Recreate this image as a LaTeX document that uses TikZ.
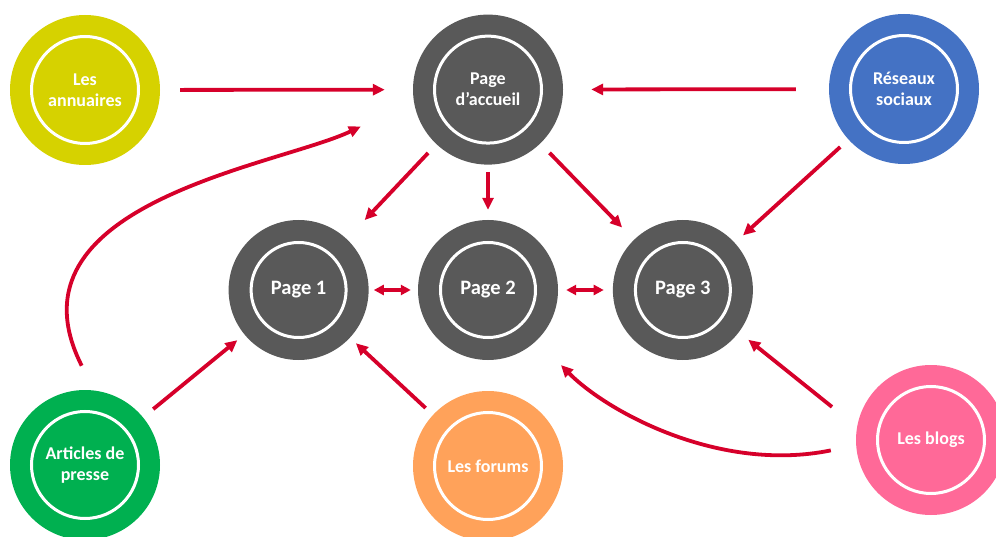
\documentclass[tikz,border=0pt]{standalone}
\usepackage{fontspec}
\setmainfont{Carlito}
\usepackage{tikz}
\usetikzlibrary{positioning,arrows.meta}

\definecolor{annucol}{RGB}{214,210,0}
\definecolor{pagegray}{RGB}{89,89,89}
\definecolor{rescol}{RGB}{68,114,196}
\definecolor{artcol}{RGB}{0,176,80}
\definecolor{forumcol}{RGB}{255,162,90}
\definecolor{blogcol}{RGB}{255,105,152}
\definecolor{linkred}{RGB}{214,0,42}

\tikzset{
  source/.style={circle, fill=#1, minimum size=150pt, inner sep=0pt, text=white,
    font=\bfseries\fontsize{18}{21}\selectfont, align=center,
    path picture={\draw[white, line width=3pt] (path picture bounding box.center) circle (53.5pt);}},
  page/.style={circle, fill=pagegray, minimum size=140pt, inner sep=0pt, text=white,
    font=\bfseries\fontsize{20.5}{24}\selectfont, align=center,
    path picture={\draw[white, line width=3pt] (path picture bounding box.center) circle (47.5pt);}},
  link/.style={draw=linkred, line width=3.8pt, -{Triangle[length=12pt, width=11pt]}},
  both/.style={draw=linkred, line width=3.8pt,
    {Triangle[length=10pt, width=10pt]}-{Triangle[length=10pt, width=10pt]}},
}

\begin{document}
\begin{tikzpicture}[x=1pt, y=-1pt]
  \useasboundingbox (0,0) rectangle (996,537);

  % Define nodes
  \node[page] (p2) at (488,290) {Page 2};
  \node[page, left=49pt of p2] (p1) {Page 1};
  \node[page, right=54.5pt of p2] (p3) {Page 3};
  \node[source=pagegray, above=55pt of p2] (home) {Page\\d’accueil};
  \node[source=annucol] (annu) at (85,90) {Les\\annuaires};
  \node[source=rescol] (res) at (904,89) {Réseaux\\sociaux};
  \node[source=artcol] (art) at (85,465) {Articles de\\presse};
  \node[source=forumcol] (forum) at (488,466) {Les forums};
  \node[source=blogcol] (blogs) at (931,440) {Les blogs};

  % Connect the nodes
  \draw[link, shorten <=20pt, shorten >=28pt] (annu) -- (home);
  \draw[link, shorten <=33pt, shorten >=28pt] (res) -- (home);
  \draw[link, shorten <=12pt, shorten >=26pt] (home) -- (p1);
  \draw[link, shorten <=7pt, shorten >=10pt] (home) -- (p2);
  \draw[link, shorten <=13pt, shorten >=17pt] (home) -- (p3);
  \draw[link, shorten <=11pt, shorten >=11pt] (res) -- (p3);
  \draw[both, shorten <=5pt, shorten >=7pt] (p1) -- (p2);
  \draw[both, shorten <=8pt, shorten >=9pt] (p2) -- (p3);
  \draw[link, shorten <=13pt, shorten >=9pt] (art) -- (p1);
  \draw[link, shorten <=10pt, shorten >=8pt] (forum) -- (p1);
  \draw[link, shorten <=32pt, shorten >=12pt] (blogs.170) -- (p3.-37);

  % Curved links
  \draw[link, shorten <=25.7pt, shorten >=34.5pt]
    (blogs.184) .. controls +(-137,28) and +(70,71) .. (p2.-46);
  \draw[link, shorten <=27.6pt, shorten >=58.6pt]
    (art.83) .. controls +(-94.5,-187) and +(-135.5,64.4) .. (home.189);

\end{tikzpicture}
\end{document}
